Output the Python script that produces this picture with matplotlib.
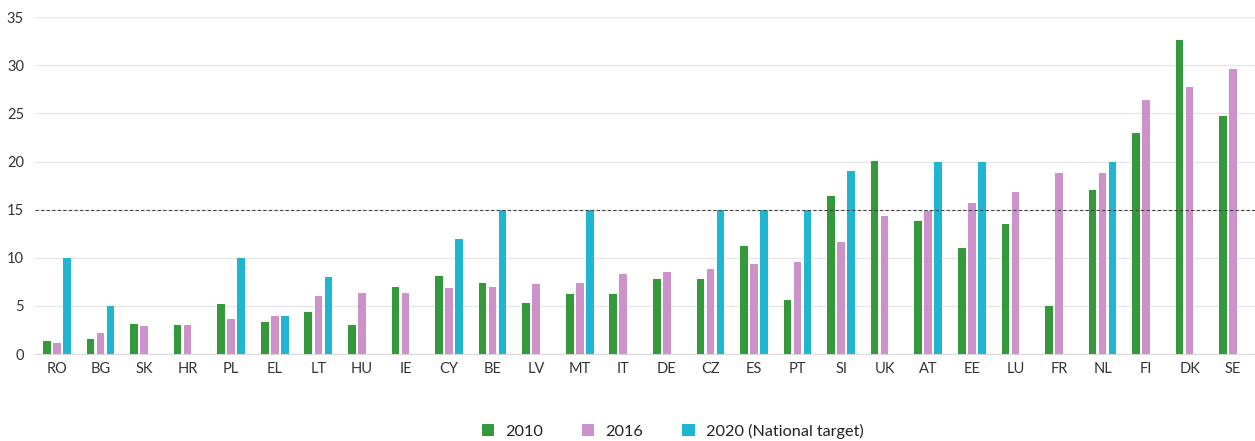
import numpy as np
import matplotlib
matplotlib.use('Agg')
import matplotlib.pyplot as plt

countries = ['RO', 'BG', 'SK', 'HR', 'PL', 'EL', 'LT', 'HU', 'IE', 'CY', 'BE', 'LV', 'MT', 'IT',
             'DE', 'CZ', 'ES', 'PT', 'SI', 'UK', 'AT', 'EE', 'LU', 'FR', 'NL', 'FI', 'DK', 'SE']
v2010 = [1.4, 1.6, 3.1, 3.0, 5.2, 3.3, 4.4, 3.0, 7.0, 8.1, 7.4, 5.3, 6.2, 6.2,
         7.8, 7.8, 11.2, 5.6, 16.4, 20.1, 13.8, 11.0, 13.5, 5.0, 17.0, 23.0, 32.6, 24.7]
v2016 = [1.2, 2.2, 2.9, 3.0, 3.7, 4.0, 6.0, 6.3, 6.4, 6.9, 7.0, 7.3, 7.4, 8.3,
         8.5, 8.8, 9.4, 9.6, 11.6, 14.4, 14.9, 15.7, 16.8, 18.8, 18.8, 26.4, 27.7, 29.6]
v2020 = [10, 5, 0, 0, 10, 4, 8, 0, 0, 12, 15, 0, 15, 0,
         0, 15, 15, 15, 19, 0, 20, 20, 0, 0, 20, 0, 0, 0]
series_names = ['2010', '2016', '2020 (National target)']
colors = ['#33993a', '#cc92c9', '#1fb6d2']

plt.rcParams['font.family'] = ['Lato', 'DejaVu Sans']

fig = plt.figure(figsize=(12.55, 4.41), dpi=100)
ax = fig.add_axes([0.028, 0.197, 0.972, 0.764])

x = np.arange(len(countries))
w = 0.175
step = 0.23
for i, (vals, name) in enumerate(zip([v2010, v2016, v2020], series_names)):
    ax.bar(x + (i - 1) * step, vals, width=w, color=colors[i], label=name, zorder=3)

# 15% reference line
ax.axhline(15, color='#444444', lw=0.8, ls=(0, (3, 2)), zorder=4)

ax.set_xlim(-0.5, len(countries) - 0.5)
ax.set_ylim(0, 35)
ax.set_yticks(range(0, 36, 5))
ax.set_xticks(x)
ax.set_xticklabels(countries)
ax.yaxis.grid(True, color='#e6e6e6', lw=0.9, zorder=0)
ax.set_axisbelow(True)
for s in ['top', 'right', 'left']:
    ax.spines[s].set_visible(False)
ax.spines['bottom'].set_color('#d9d9d9')
ax.tick_params(length=0, labelsize=10.5, colors='#333333')
ax.tick_params(axis='x', pad=6)
ax.tick_params(axis='y', pad=8)

fig.legend(loc='center', bbox_to_anchor=(0.536, 0.022), ncol=3, frameon=False,
           fontsize=11.7, handlelength=0.75, handleheight=0.75, columnspacing=2.4,
           handletextpad=0.7, labelcolor='#222222')

fig.savefig('out.png', dpi=100)
